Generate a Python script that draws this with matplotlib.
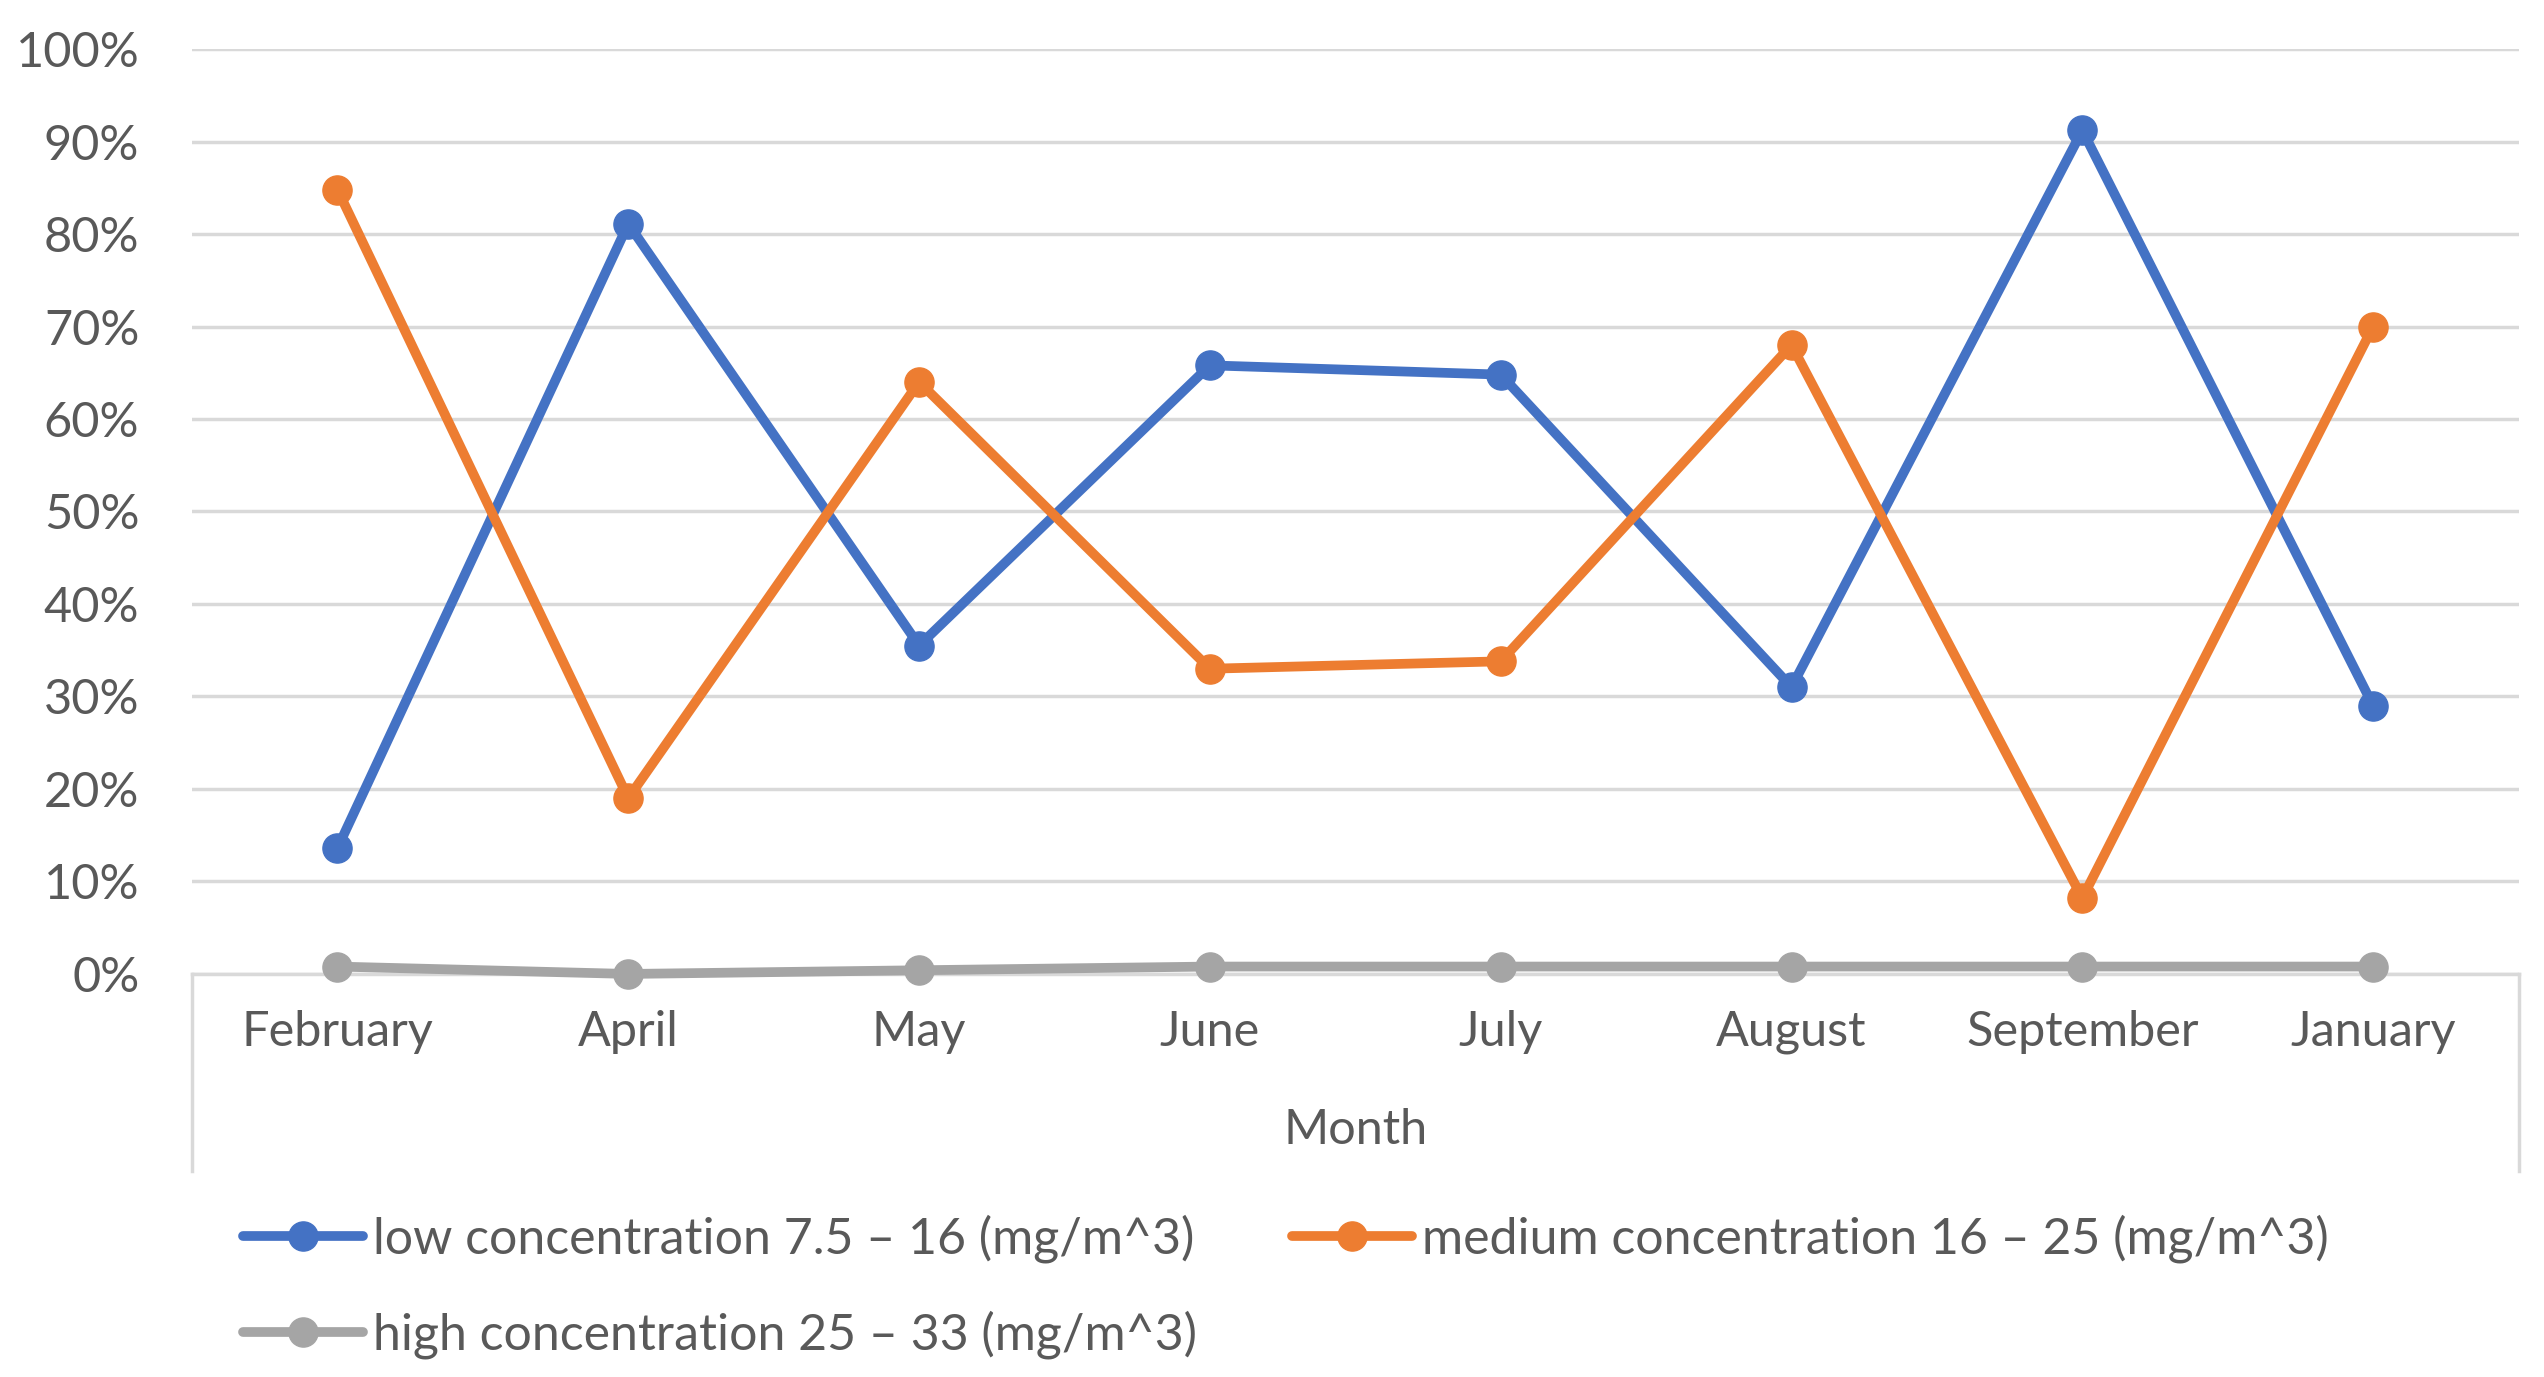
import numpy as np
import matplotlib.pyplot as plt

plt.rcParams['font.family'] = ['Lato', 'DejaVu Sans']

# data (percent)
months = ["February", "April", "May", "June", "July", "August", "September", "January"]
low = [13.6, 81.1, 35.5, 65.8, 64.8, 31.0, 91.2, 29.0]
medium = [84.8, 19.0, 64.0, 33.0, 33.8, 68.0, 8.2, 70.0]
high = [0.8, 0.0, 0.4, 0.8, 0.8, 0.8, 0.8, 0.8]
yticks = [0, 10, 20, 30, 40, 50, 60, 70, 80, 90, 100]

labels = ["low concentration 7.5 \u2013 16 (mg/m^3)",
          "medium concentration 16 \u2013 25 (mg/m^3)",
          "high concentration 25 \u2013 33 (mg/m^3)"]
colors = ["#4472C4", "#ED7D31", "#A5A5A5"]
text_col = "#595959"

fig = plt.figure(figsize=(25.44, 13.77), dpi=100)
ax = fig.add_axes([0.0755, 0.2927, 0.9145, 0.6717])

x = np.arange(len(months))
lines = []
for vals, lab, c in zip([low, medium, high], labels, colors):
    ln, = ax.plot(x, vals, color=c, lw=7, marker='o', ms=21,
                  label=lab, solid_capstyle='round', clip_on=False, zorder=3)
    lines.append(ln)

ax.set_xlim(-0.5, len(months) - 0.5)
ax.set_ylim(0, 100)
ax.set_yticks(yticks)
ax.set_yticklabels([f"{v}%" for v in yticks])
ax.set_xticks(x)
ax.set_xticklabels(months)
ax.grid(axis='y', color='#D9D9D9', lw=2.5)
ax.set_axisbelow(True)
for s in ['top', 'right', 'left']:
    ax.spines[s].set_visible(False)
ax.spines['bottom'].set_color('#D9D9D9')
ax.spines['bottom'].set_linewidth(2.5)
ax.tick_params(axis='both', length=0, labelsize=35, colors=text_col)
ax.tick_params(axis='y', pad=38)
ax.tick_params(axis='x', pad=26)
ax.set_xlabel("Month", fontsize=35, color=text_col, labelpad=39)

# category axis frame below the plot
for xf in (0, 1):
    ax.plot([xf, xf], [0, -0.213], transform=ax.transAxes, color='#D9D9D9',
            lw=2.5, clip_on=False)

# legend: low / high in first column, medium in second
order = [0, 2, 1]
fig.legend([lines[i] for i in order], [labels[i] for i in order],
           loc='upper left', bbox_to_anchor=(0.0875, 0.1325), ncol=2,
           frameon=False, fontsize=36, labelcolor=text_col,
           handlelength=2.4, handletextpad=0.2, columnspacing=1.9,
           labelspacing=0.95, borderaxespad=0)

fig.savefig("out.png", dpi=100)
